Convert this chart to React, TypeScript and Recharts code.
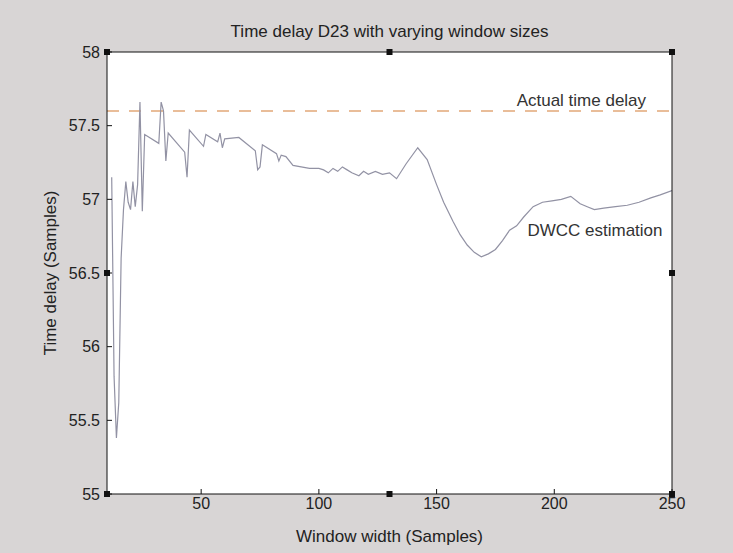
import React from "react";
import {
  LineChart,
  Line,
  XAxis,
  YAxis,
  CartesianGrid,
  ReferenceLine,
  ReferenceDot,
  Label,
} from "recharts";

// window width (samples) and the DWCC time delay estimate
const windowWidth = [
  12, 13, 14, 15, 16, 17, 18, 19, 20, 21, 22, 23, 24, 25, 26, 32, 33, 34, 35, 36,
  43, 44, 45, 51, 52, 57, 58, 59, 60, 66, 73, 74, 75, 76, 82, 83, 84, 86, 89, 96,
  100, 102, 104, 106, 108, 110, 112, 114, 117, 119, 121, 124, 127, 130, 133, 137,
  142, 146, 150, 153, 157, 160, 163, 166, 169, 172, 175, 178, 181, 184, 187, 191,
  195, 199, 203, 207, 211, 214, 217, 221, 226, 231, 236, 241, 245, 250,
];
const dwccEstimate = [
  57.15, 55.8, 55.38, 55.62, 56.6, 56.93, 57.12, 56.98, 56.93, 57.12, 56.95, 57.1,
  57.66, 56.92, 57.44, 57.38, 57.66, 57.6, 57.26, 57.45, 57.32, 57.15, 57.47, 57.36,
  57.44, 57.39, 57.45, 57.35, 57.41, 57.42, 57.33, 57.2, 57.22, 57.37, 57.31, 57.26,
  57.3, 57.29, 57.23, 57.21, 57.21, 57.2, 57.18, 57.21, 57.19, 57.22, 57.2, 57.18,
  57.16, 57.19, 57.17, 57.19, 57.17, 57.18, 57.14, 57.24, 57.35, 57.27, 57.1, 56.98,
  56.85, 56.76, 56.69, 56.64, 56.61, 56.63, 56.66, 56.72, 56.79, 56.82, 56.88, 56.95,
  56.98, 56.99, 57.0, 57.02, 56.97, 56.95, 56.93, 56.94, 56.95, 56.96, 56.98, 57.01,
  57.03, 57.06,
];
const ACTUAL_DELAY = 57.6;

const xTicks = [50, 100, 150, 200, 250];
const yTicks = [55, 55.5, 56, 56.5, 57, 57.5, 58];

// selection handles on the axes box (figure editor squares)
const handles: [number, number][] = [
  [10, 58], [130, 58], [250, 58],
  [10, 56.5], [250, 56.5],
  [10, 55], [130, 55], [250, 55],
];

// text annotations, anchored at data coordinates
const actualLabelAt = { x: 184, y: 57.633 };
const dwccLabelAt = { x: 188.6, y: 56.75 };

const data = windowWidth.map((w, i) => ({ w, d: dwccEstimate[i] }));

const FONT = "'Liberation Sans', Arial, Helvetica, sans-serif";
const tickStyle = { fill: "#222", fontSize: 16, fontFamily: FONT };
const labelStyle = { fill: "#222", fontSize: 17, fontFamily: FONT };

const annotation = (text: string) => (p: any) =>
  (
    <text x={p.cx} y={p.cy} fontSize={17} fill="#333" fontFamily={FONT}>
      {text}
    </text>
  );

const handleShape = (p: any) => (
  <rect x={p.cx - 3} y={p.cy - 3} width={6} height={6} fill="#111" />
);

export default function App() {
  return (
    <div
      style={{
        position: "absolute",
        left: 0,
        top: 0,
        width: 733,
        height: 553,
        background: "#d8d5d5",
      }}
    >
      <LineChart
        width={733}
        height={553}
        data={data}
        margin={{ top: 51, right: 60, bottom: 0, left: 0 }}
      >
        <CartesianGrid horizontal={false} vertical={false} fill="#ffffff" />
        <XAxis
          dataKey="w"
          type="number"
          domain={[10, 250]}
          ticks={xTicks}
          height={59}
          tickSize={-5}
          tickMargin={9}
          stroke="#111"
          tick={tickStyle}
          allowDataOverflow
        >
          <Label
            value="Window width (Samples)"
            position="insideBottom"
            offset={11}
            style={labelStyle}
          />
        </XAxis>
        <XAxis
          xAxisId="top"
          orientation="top"
          dataKey="w"
          type="number"
          domain={[10, 250]}
          ticks={xTicks}
          height={1}
          tickSize={-5}
          tick={false}
          stroke="#111"
        >
          <Label
            value="Time delay D23 with varying window sizes"
            position="top"
            offset={14}
            style={labelStyle}
          />
        </XAxis>
        <YAxis
          type="number"
          domain={[55, 58]}
          ticks={yTicks}
          width={107}
          tickSize={-5}
          tickMargin={12}
          stroke="#111"
          tick={tickStyle}
          allowDataOverflow
        >
          <Label
            value="Time delay (Samples)"
            angle={-90}
            position="insideLeft"
            offset={50}
            style={{ ...labelStyle, textAnchor: "middle" }}
          />
        </YAxis>
        <YAxis
          yAxisId="right"
          orientation="right"
          type="number"
          domain={[55, 58]}
          ticks={yTicks}
          width={1}
          tickSize={-5}
          tick={false}
          stroke="#111"
        />
        <ReferenceLine
          y={ACTUAL_DELAY}
          stroke="#e2a878"
          strokeWidth={1.5}
          strokeDasharray="12 10"
        />
        <Line
          type="linear"
          dataKey="d"
          stroke="#9292a4"
          strokeWidth={1.2}
          dot={false}
          isAnimationActive={false}
        />
        <ReferenceDot
          x={actualLabelAt.x}
          y={actualLabelAt.y}
          r={0}
          ifOverflow="visible"
          shape={annotation("Actual time delay")}
        />
        <ReferenceDot
          x={dwccLabelAt.x}
          y={dwccLabelAt.y}
          r={0}
          ifOverflow="visible"
          shape={annotation("DWCC estimation")}
        />
        {handles.map(([hx, hy], i) => (
          <ReferenceDot
            key={i}
            x={hx}
            y={hy}
            r={3}
            ifOverflow="visible"
            shape={handleShape}
          />
        ))}
      </LineChart>
    </div>
  );
}
